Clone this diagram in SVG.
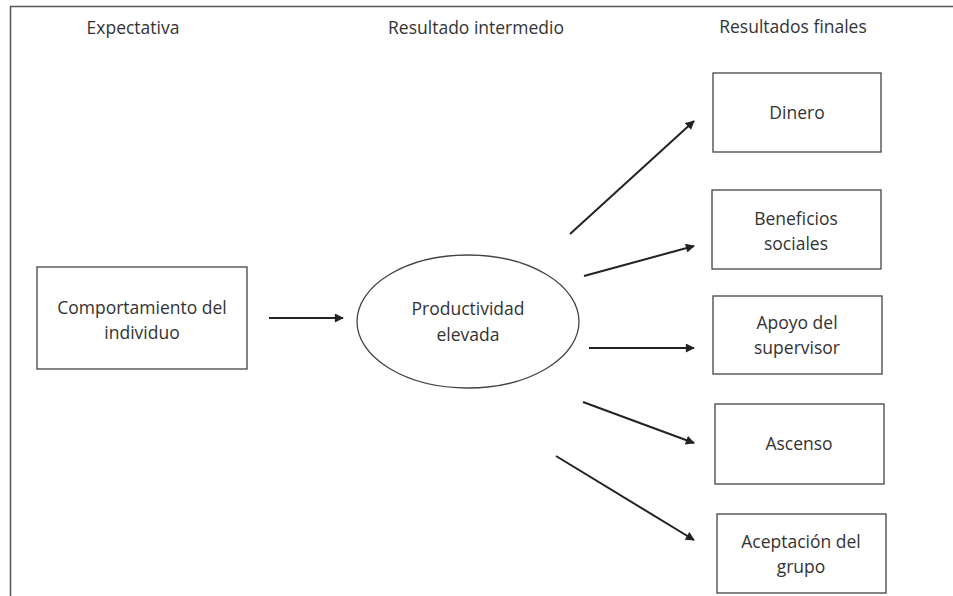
<svg xmlns="http://www.w3.org/2000/svg" width="953" height="596" viewBox="0 0 953 596">
<defs>
<style>
.t{font-family:"Open Sans","Noto Sans",sans-serif;font-size:17.5px;fill:#333;text-anchor:middle}
.box{fill:#fff;stroke:#444;stroke-width:1.3}
.c{stroke:#222;stroke-width:2;fill:none;marker-end:url(#ah)}
</style>
<marker id="ah" viewBox="0 0 10 10" refX="9" refY="5" markerWidth="5" markerHeight="4.5" orient="auto" markerUnits="strokeWidth">
<path d="M0,0 L10,5 L0,10 z" fill="#222"/>
</marker>
</defs>
<rect width="953" height="596" fill="#fff"/>
<path d="M10.5,596 V6.5 H953" fill="none" stroke="#555" stroke-width="1.5"/>
<g id="headers">
<text class="t" x="133" y="34">Expectativa</text>
<text class="t" x="476" y="34">Resultado intermedio</text>
<text class="t" x="793" y="33">Resultados finales</text>
</g>
<g id="comportamiento">
<rect class="box" x="37" y="267" width="210" height="102"/>
<text class="t" x="142" y="314">Comportamiento del</text>
<text class="t" x="142" y="339">individuo</text>
</g>
<g id="productividad">
<ellipse class="box" cx="468" cy="321.5" rx="111" ry="66.5"/>
<text class="t" x="468" y="315">Productividad</text>
<text class="t" x="468" y="341">elevada</text>
</g>
<g id="dinero">
<rect class="box" x="713" y="73" width="168" height="79"/>
<text class="t" x="797" y="119">Dinero</text>
</g>
<g id="beneficios">
<rect class="box" x="712" y="190" width="169" height="79"/>
<text class="t" x="796" y="225">Beneficios</text>
<text class="t" x="796" y="250">sociales</text>
</g>
<g id="apoyo">
<rect class="box" x="713" y="296" width="169" height="78"/>
<text class="t" x="797" y="329">Apoyo del</text>
<text class="t" x="797" y="354">supervisor</text>
</g>
<g id="ascenso">
<rect class="box" x="715" y="404" width="169" height="80"/>
<text class="t" x="799" y="450">Ascenso</text>
</g>
<g id="aceptacion">
<rect class="box" x="717" y="514" width="169" height="79"/>
<text class="t" x="801" y="548">Aceptación del</text>
<text class="t" x="801" y="573">grupo</text>
</g>
<g id="connectors">
<line class="c" x1="269" y1="318" x2="343" y2="318"/>
<line class="c" x1="570" y1="234" x2="694" y2="121"/>
<line class="c" x1="584" y1="276" x2="694" y2="246"/>
<line class="c" x1="589" y1="348" x2="694" y2="348"/>
<line class="c" x1="583" y1="402" x2="694" y2="443"/>
<line class="c" x1="556" y1="456" x2="694" y2="540"/>
</g>
</svg>
